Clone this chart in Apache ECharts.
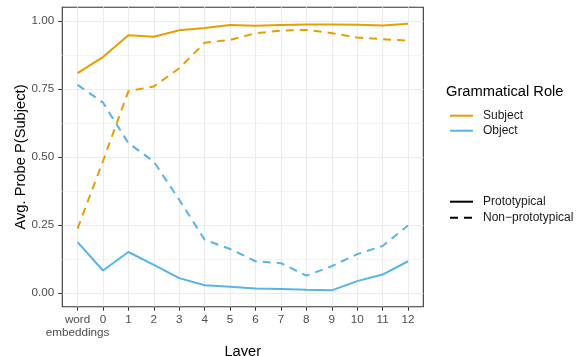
<!DOCTYPE html>
<html>
<head>
<meta charset="utf-8">
<script src="https://cdn.jsdelivr.net/npm/echarts@6/dist/echarts.min.js"></script>
<style>
html,body{margin:0;padding:0;background:#fff;}
#chart{width:580px;height:356px;}
</style>
</head>
<body>
<div id="chart"></div>
<script>
// ---- data ----
const layers = ['word\nembeddings','0','1','2','3','4','5','6','7','8','9','10','11','12'];
const subjectProto    = [0.808,0.867,0.947,0.942,0.966,0.974,0.985,0.982,0.985,0.987,0.987,0.986,0.983,0.990];
const subjectNonProto = [0.237,0.485,0.742,0.759,0.826,0.920,0.930,0.955,0.964,0.967,0.955,0.939,0.933,0.927];
const objectProto     = [0.187,0.083,0.151,0.104,0.055,0.029,0.023,0.017,0.015,0.012,0.010,0.044,0.068,0.117];
const objectNonProto  = [0.765,0.700,0.551,0.483,0.343,0.196,0.162,0.117,0.110,0.064,0.099,0.143,0.173,0.248];
const yTicks = [0, 0.25, 0.5, 0.75, 1.0];
const yMinorTicks = [0.125, 0.375, 0.625, 0.875];
const roleNames = ['Subject', 'Object'];
const typeNames = ['Prototypical', 'Non\u2212prototypical'];

const ORANGE = '#E69F00', BLUE = '#56B4E9';
const FONT = '"Liberation Sans", Arial, Helvetica, sans-serif';
const DASH = [8, 6];
const xIdx = layers.map((_, i) => i);
const xIdxRest = xIdx.slice(1);
const pairs = arr => arr.map((v, i) => [i, v]);

function lineSeries(name, data, color, dashed) {
  return {
    name: name, type: 'line', data: data, symbol: 'none', silent: true,
    xAxisIndex: 0, yAxisIndex: 0,
    color: color,
    itemStyle: { color: color },
    lineStyle: { color: color, width: 2, type: dashed ? DASH : 'solid' },
    animation: false
  };
}
const labelBase = { margin: 7, color: '#4d4d4d', fontFamily: FONT, fontSize: 11.7,
  lineHeight: 12.6, align: 'center', hideOverlap: false, showMinLabel: true, showMaxLabel: true,
  formatter: v => layers[Math.round(v)] };

const chart = echarts.init(document.getElementById('chart'), null, { renderer: 'canvas' });
chart.setOption({
  animation: false,
  textStyle: { fontFamily: FONT },
  title: {
    text: 'Grammatical Role', left: 446, top: 84,
    padding: 0,
    textStyle: { fontFamily: FONT, fontSize: 14.7, fontWeight: 'normal', color: '#000' }
  },
  grid: {
    left: 62.3, top: 7.3, right: 156.7, bottom: 49.3,
    outerBoundsMode: 'none', containLabel: false,
    show: true, borderColor: '#333333', borderWidth: 1.1, backgroundColor: '#fff'
  },
  legend: [
    {
      data: roleNames, orient: 'vertical', left: 449, top: 109.7,
      itemWidth: 23, itemHeight: 14, itemGap: 3, padding: 0,
      selectedMode: false,
      itemStyle: { opacity: 0 },
      textStyle: { fontFamily: FONT, fontSize: 12, color: '#1a1a1a', padding: [0, 0, 0, 5] }
    },
    {
      data: typeNames, orient: 'vertical', left: 449, top: 195.7,
      itemWidth: 23, itemHeight: 14, itemGap: 4, padding: 0,
      selectedMode: false,
      itemStyle: { opacity: 0 },
      textStyle: { fontFamily: FONT, fontSize: 12, color: '#1a1a1a', padding: [0, 0, 0, 5] }
    }
  ],
  xAxis: [
    {
      type: 'value', min: -0.6, max: layers.length - 0.4, position: 'bottom',
      name: 'Layer', nameLocation: 'middle', nameGap: 38,
      nameTextStyle: { fontFamily: FONT, fontSize: 14.7, color: '#000' },
      axisLine: { show: false, onZero: false },
      axisTick: { show: true, length: 4, customValues: xIdx, lineStyle: { color: '#333333', width: 1 } },
      axisLabel: Object.assign({ customValues: xIdxRest }, labelBase),
      splitLine: { show: true, lineStyle: { color: '#ebebeb', width: 1.1 } }
    },
    {
      type: 'value', min: -0.6, max: layers.length - 0.4, position: 'bottom', offset: 0,
      axisLine: { show: false, onZero: false },
      axisTick: { show: false, customValues: [0] },
      axisLabel: Object.assign({ customValues: [0] }, labelBase),
      splitLine: { show: false }
    }
  ],
  yAxis: [
    {
      type: 'value', min: -0.05, max: 1.05,
      name: 'Avg. Probe P(Subject)', nameLocation: 'middle', nameGap: 34, nameMoveOverlap: false,
      nameTextStyle: { fontFamily: FONT, fontSize: 14.7, color: '#000' },
      axisLine: { show: false, onZero: false },
      axisTick: { show: true, length: 4, customValues: yTicks, lineStyle: { color: '#333333', width: 1 } },
      axisLabel: {
        customValues: yTicks, margin: 8, color: '#4d4d4d', fontFamily: FONT, fontSize: 11.7,
        showMinLabel: true, showMaxLabel: true,
        formatter: v => v.toFixed(2)
      },
      splitLine: { show: true, lineStyle: { color: '#ebebeb', width: 1.1 } }
    },
    {
      type: 'value', min: -0.05, max: 1.05, position: 'right',
      axisLine: { show: false, onZero: false },
      axisTick: { show: false, customValues: yMinorTicks },
      axisLabel: { show: false, customValues: yMinorTicks },
      splitLine: { show: true, lineStyle: { color: '#ebebeb', width: 0.6 } }
    }
  ],
  series: [
    lineSeries('Subject Prototypical', pairs(subjectProto), ORANGE, false),
    lineSeries('Subject Non-prototypical', pairs(subjectNonProto), ORANGE, true),
    lineSeries('Object Prototypical', pairs(objectProto), BLUE, false),
    lineSeries('Object Non-prototypical', pairs(objectNonProto), BLUE, true),
    lineSeries(roleNames[0], [], ORANGE, false),
    lineSeries(roleNames[1], [], BLUE, false),
    lineSeries(typeNames[0], [], '#000000', false),
    lineSeries(typeNames[1], [], '#000000', true)
  ]
});
</script>
</body>
</html>
